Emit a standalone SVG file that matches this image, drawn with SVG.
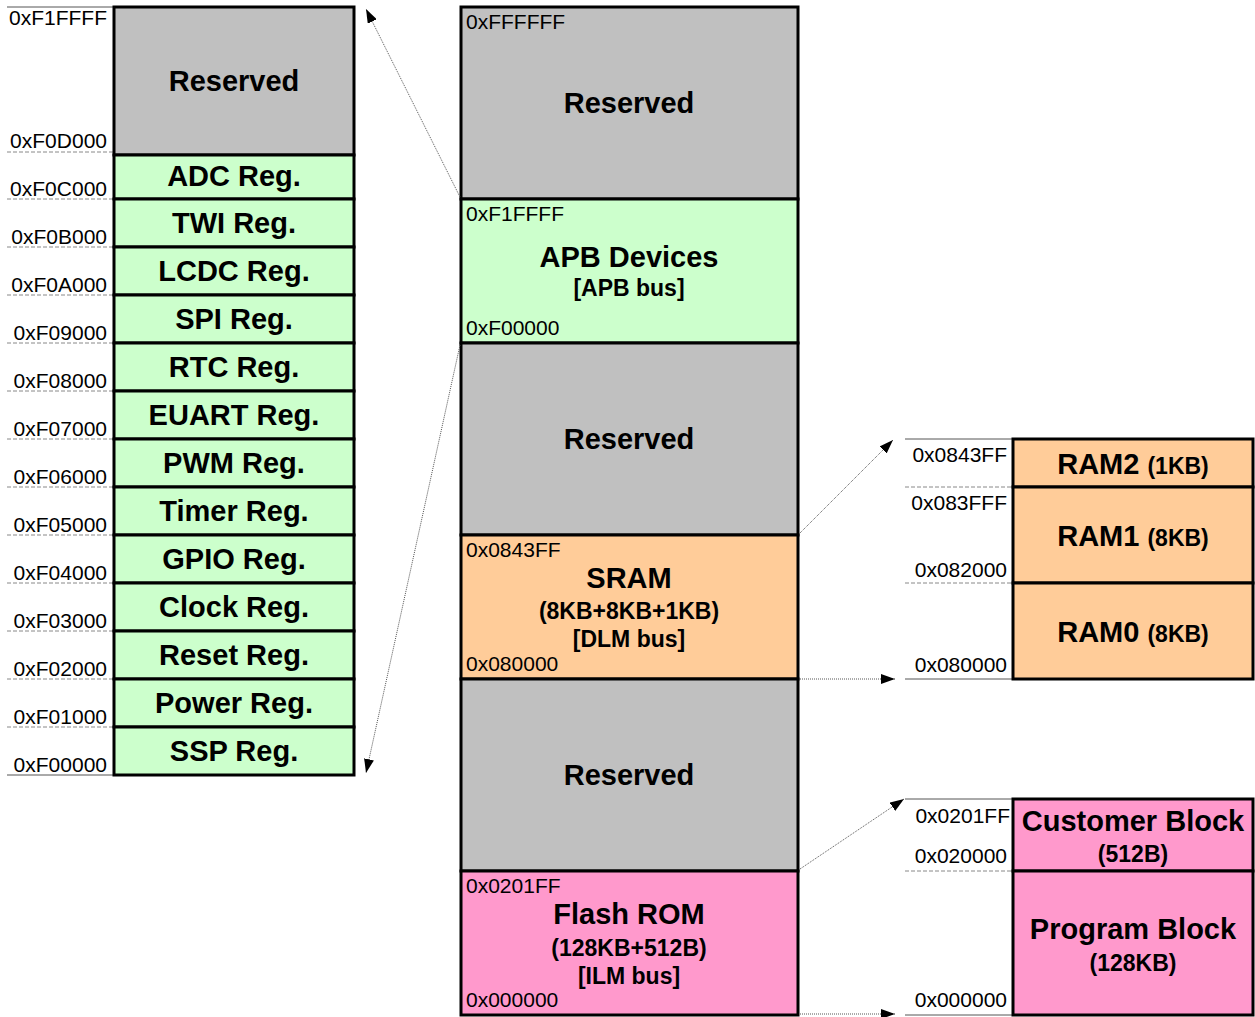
<svg xmlns="http://www.w3.org/2000/svg" width="1255" height="1017" viewBox="0 0 1255 1017">
<style>
.blk{stroke:#000;stroke-width:3}
.gray{fill:#C0C0C0}.green{fill:#CCFFCC}.orange{fill:#FFCC99}.pink{fill:#FF99CC}
.t{font-family:"Liberation Sans",Arial,sans-serif;font-weight:bold;font-size:29px;text-anchor:middle;fill:#000}
.s{font-family:"Liberation Sans",Arial,sans-serif;font-weight:bold;font-size:23px;text-anchor:middle;fill:#000}
.a{font-family:"Liberation Sans",Arial,sans-serif;font-size:21px;fill:#000}
.r{text-anchor:end}
.solid{stroke:#555;stroke-width:1}
.dash{stroke:#888;stroke-width:1;stroke-dasharray:4,2}
.conn{stroke:#555;stroke-width:1;stroke-dasharray:1,1;fill:none}
</style>
<defs>
<marker id="ah" viewBox="0 0 14 10" refX="14" refY="5" markerWidth="14" markerHeight="10" markerUnits="userSpaceOnUse" orient="auto">
<path d="M0,0 L14,5 L0,10 z" fill="#000"/>
</marker>
</defs>

<!-- Left column: APB register map -->
<g id="left-lines">
<line class="solid" x1="7" y1="7" x2="114" y2="7"/>
<line class="dash" x1="7" y1="152" x2="114" y2="152"/>
<line class="dash" x1="7" y1="199" x2="114" y2="199"/>
<line class="dash" x1="7" y1="247" x2="114" y2="247"/>
<line class="dash" x1="7" y1="295" x2="114" y2="295"/>
<line class="dash" x1="7" y1="343" x2="114" y2="343"/>
<line class="dash" x1="7" y1="391" x2="114" y2="391"/>
<line class="dash" x1="7" y1="439" x2="114" y2="439"/>
<line class="dash" x1="7" y1="487" x2="114" y2="487"/>
<line class="dash" x1="7" y1="535" x2="114" y2="535"/>
<line class="dash" x1="7" y1="583" x2="114" y2="583"/>
<line class="dash" x1="7" y1="631" x2="114" y2="631"/>
<line class="dash" x1="7" y1="679" x2="114" y2="679"/>
<line class="dash" x1="7" y1="727" x2="114" y2="727"/>
<line class="solid" x1="7" y1="775" x2="114" y2="775"/>
</g>
<g id="left-reserved"><rect class="blk gray" x="114" y="7" width="240" height="148"/><text class="t" x="234" y="91">Reserved</text><text class="a r" x="107" y="25">0xF1FFFF</text><text class="a r" x="107" y="148">0xF0D000</text></g>
<g id="adc"><rect class="blk green" x="114" y="155" width="240" height="44"/><text class="t" x="234" y="186">ADC Reg.</text><text class="a r" x="107" y="196">0xF0C000</text></g>
<g id="twi"><rect class="blk green" x="114" y="199" width="240" height="48"/><text class="t" x="234" y="233">TWI Reg.</text><text class="a r" x="107" y="244">0xF0B000</text></g>
<g id="lcdc"><rect class="blk green" x="114" y="247" width="240" height="48"/><text class="t" x="234" y="281">LCDC Reg.</text><text class="a r" x="107" y="292">0xF0A000</text></g>
<g id="spi"><rect class="blk green" x="114" y="295" width="240" height="48"/><text class="t" x="234" y="329">SPI Reg.</text><text class="a r" x="107" y="340">0xF09000</text></g>
<g id="rtc"><rect class="blk green" x="114" y="343" width="240" height="48"/><text class="t" x="234" y="377">RTC Reg.</text><text class="a r" x="107" y="388">0xF08000</text></g>
<g id="euart"><rect class="blk green" x="114" y="391" width="240" height="48"/><text class="t" x="234" y="425">EUART Reg.</text><text class="a r" x="107" y="436">0xF07000</text></g>
<g id="pwm"><rect class="blk green" x="114" y="439" width="240" height="48"/><text class="t" x="234" y="473">PWM Reg.</text><text class="a r" x="107" y="484">0xF06000</text></g>
<g id="timer"><rect class="blk green" x="114" y="487" width="240" height="48"/><text class="t" x="234" y="521">Timer Reg.</text><text class="a r" x="107" y="532">0xF05000</text></g>
<g id="gpio"><rect class="blk green" x="114" y="535" width="240" height="48"/><text class="t" x="234" y="569">GPIO Reg.</text><text class="a r" x="107" y="580">0xF04000</text></g>
<g id="clock"><rect class="blk green" x="114" y="583" width="240" height="48"/><text class="t" x="234" y="617">Clock Reg.</text><text class="a r" x="107" y="628">0xF03000</text></g>
<g id="reset"><rect class="blk green" x="114" y="631" width="240" height="48"/><text class="t" x="234" y="665">Reset Reg.</text><text class="a r" x="107" y="676">0xF02000</text></g>
<g id="power"><rect class="blk green" x="114" y="679" width="240" height="48"/><text class="t" x="234" y="713">Power Reg.</text><text class="a r" x="107" y="724">0xF01000</text></g>
<g id="ssp"><rect class="blk green" x="114" y="727" width="240" height="48"/><text class="t" x="234" y="761">SSP Reg.</text><text class="a r" x="107" y="772">0xF00000</text></g>

<!-- Middle column: main memory map -->
<g id="mid-reserved-top"><rect class="blk gray" x="461" y="7" width="337" height="192"/><text class="a" x="466" y="29">0xFFFFFF</text><text class="t" x="629" y="113">Reserved</text></g>
<g id="apb"><rect class="blk green" x="461" y="199" width="337" height="144"/><text class="a" x="466" y="221">0xF1FFFF</text><text class="t" x="629" y="267">APB Devices</text><text class="s" x="629" y="296">[APB bus]</text><text class="a" x="466" y="335">0xF00000</text></g>
<g id="mid-reserved-2"><rect class="blk gray" x="461" y="343" width="337" height="192"/><text class="t" x="629" y="449">Reserved</text></g>
<g id="sram"><rect class="blk orange" x="461" y="535" width="337" height="144"/><text class="a" x="466" y="557">0x0843FF</text><text class="t" x="629" y="588">SRAM</text><text class="s" x="629" y="619">(8KB+8KB+1KB)</text><text class="s" x="629" y="647">[DLM bus]</text><text class="a" x="466" y="671">0x080000</text></g>
<g id="mid-reserved-3"><rect class="blk gray" x="461" y="679" width="337" height="192"/><text class="t" x="629" y="785">Reserved</text></g>
<g id="flash"><rect class="blk pink" x="461" y="871" width="337" height="144"/><text class="a" x="466" y="893">0x0201FF</text><text class="t" x="629" y="924">Flash ROM</text><text class="s" x="629" y="956">(128KB+512B)</text><text class="s" x="629" y="984">[ILM bus]</text><text class="a" x="466" y="1007">0x000000</text></g>

<!-- Right top: SRAM detail -->
<g id="sram-lines">
<line class="solid" x1="905" y1="439" x2="1013" y2="439"/>
<line class="dash" x1="905" y1="487" x2="1013" y2="487"/>
<line class="dash" x1="905" y1="583" x2="1013" y2="583"/>
<line class="solid" x1="905" y1="679" x2="1013" y2="679"/>
</g>
<g id="ram2"><rect class="blk orange" x="1013" y="439" width="240" height="48"/><text class="t" x="1133" y="474">RAM2 <tspan style="font-size:23px">(1KB)</tspan></text><text class="a r" x="1007" y="462">0x0843FF</text></g>
<g id="ram1"><rect class="blk orange" x="1013" y="487" width="240" height="96"/><text class="t" x="1133" y="546">RAM1 <tspan style="font-size:23px">(8KB)</tspan></text><text class="a r" x="1007" y="510">0x083FFF</text><text class="a r" x="1007" y="577">0x082000</text></g>
<g id="ram0"><rect class="blk orange" x="1013" y="583" width="240" height="96"/><text class="t" x="1133" y="642">RAM0 <tspan style="font-size:23px">(8KB)</tspan></text><text class="a r" x="1007" y="672">0x080000</text></g>

<!-- Right bottom: Flash detail -->
<g id="flash-lines">
<line class="solid" x1="905" y1="799" x2="1013" y2="799"/>
<line class="dash" x1="905" y1="871" x2="1013" y2="871"/>
<line class="solid" x1="905" y1="1015" x2="1013" y2="1015"/>
</g>
<g id="customer"><rect class="blk pink" x="1013" y="799" width="240" height="72"/><text class="t" x="1133" y="831">Customer Block</text><text class="s" x="1133" y="862">(512B)</text><text class="a r" x="1010" y="823">0x0201FF</text><text class="a r" x="1007" y="863">0x020000</text></g>
<g id="program"><rect class="blk pink" x="1013" y="871" width="240" height="144"/><text class="t" x="1133" y="939">Program Block</text><text class="s" x="1133" y="971">(128KB)</text><text class="a r" x="1007" y="1007">0x000000</text></g>

<!-- Connectors -->
<g id="connectors">
<line class="conn" x1="460" y1="197" x2="366" y2="9" marker-end="url(#ah)"/>
<line class="conn" x1="460" y1="345" x2="366" y2="773" marker-end="url(#ah)"/>
<line class="conn" x1="800" y1="533" x2="893" y2="440" marker-end="url(#ah)"/>
<line class="conn" x1="800" y1="679" x2="895" y2="679" marker-end="url(#ah)"/>
<line class="conn" x1="800" y1="869" x2="904" y2="799" marker-end="url(#ah)"/>
<line class="conn" x1="800" y1="1014" x2="895" y2="1014" marker-end="url(#ah)"/>
</g>
</svg>
